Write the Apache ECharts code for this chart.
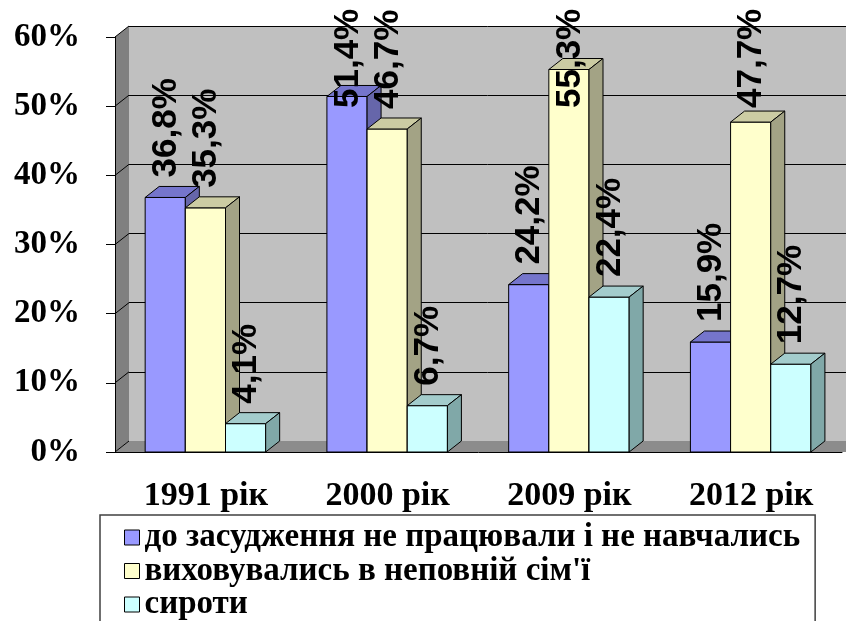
<!DOCTYPE html>
<html>
<head>
<meta charset="utf-8">
<script src="https://cdn.jsdelivr.net/npm/echarts@6/dist/echarts.min.js"></script>
<style>
html, body { margin: 0; background: #fff; }
#main { width: 846px; height: 621px; }
</style>
</head>
<body>
<div id="main"></div>
<script>
var years = ['1991 рік', '2000 рік', '2009 рік', '2012 рік'];
var seriesNames = ['до засудження не працювали і не навчались', "виховувались в неповній сім'ї", 'сироти'];
var notWorking = [36.8, 51.4, 24.2, 15.9];
var incomplete = [35.3, 46.7, 55.3, 47.7];
var orphans = [4.1, 6.7, 22.4, 12.7];
var yTicks = [0, 10, 20, 30, 40, 50, 60];

// front, top, side
var faceColors = [
  ['#9999FF', '#7575CC', '#6666AA'],
  ['#FFFFCC', '#CCCCA3', '#A3A385'],
  ['#CCFFFF', '#A3CCCC', '#80A8A8']
];

// layout of the fake 3d box
var L = 115, T = 37, B = 452, W = 846;
var DX = 14, DY = 11;

function bar3d(params, api) {
  var s = params.seriesIndex;
  var c = faceColors[s];
  var v = api.value(1);
  var base = api.coord([api.value(0), 0]);
  var top = api.coord([api.value(0), v]);
  var band = api.size([1, 0])[0];
  var w = band * 0.221;
  var x0 = base[0] - band / 2 + band * 0.166 + s * w;
  var x1 = x0 + w;
  var y0 = base[1], y1 = top[1];
  var labelY = Math.max(y1 - DY - 9, 108);
  return {
    type: 'group',
    children: [
      { type: 'rect', z2: s * 10, shape: { x: x0, y: y1, width: w, height: y0 - y1 },
        style: { fill: c[0], stroke: '#000', lineWidth: 1 } },
      { type: 'polygon', z2: s * 10 + 1, shape: { points: [[x0, y1], [x0 + DX, y1 - DY], [x1 + DX, y1 - DY], [x1, y1]] },
        style: { fill: c[1], stroke: '#000', lineWidth: 1 } },
      { type: 'polygon', z2: s * 10 + 1, shape: { points: [[x1, y1], [x1 + DX, y1 - DY], [x1 + DX, y0 - DY], [x1, y0]] },
        style: { fill: c[2], stroke: '#000', lineWidth: 1 } },
      { type: 'text', z2: 100, x: (x0 + x1) / 2 + 1, y: labelY, rotation: Math.PI / 2,
        style: { text: v.toFixed(1).replace('.', ',') + '%', font: 'bold 35px "Liberation Sans"',
                 fill: '#000', align: 'left', verticalAlign: 'middle' } }
    ]
  };
}

var walls = [
  { type: 'polygon', z: 1, shape: { points: [[L, T], [L + DX, T - DY], [L + DX, B - DY], [L, B]] },
    style: { fill: '#808080' } },
  { type: 'polygon', z: 1, shape: { points: [[L, B], [L + DX, B - DY], [W, B - DY], [W, B]] },
    style: { fill: '#8C8C8C' } }
];
for (var k = 0; k < yTicks.length; k++) {
  var yy = B - (B - T) * yTicks[k] / 60;
  walls.push({ type: 'line', z: 1, shape: { x1: L, y1: yy, x2: L + DX, y2: yy - DY },
    style: { stroke: '#000', lineWidth: 1 } });
}

var chart = echarts.init(document.getElementById('main'));
chart.setOption({
  animation: false,
  grid: [
    { left: L, right: 4, top: T, bottom: 621 - B },
    { left: L + DX, right: -20, top: T - DY, bottom: 621 - B + DY, show: true, backgroundColor: '#C0C0C0', borderWidth: 0 }
  ],
  xAxis: [
    { type: 'category', gridIndex: 0, data: years, z: 3,
      axisLine: { lineStyle: { color: '#000', width: 1 } },
      axisTick: { length: 8, lineStyle: { color: '#000' } },
      axisLabel: { margin: 27, color: '#000', fontFamily: 'Liberation Serif', fontWeight: 'bold', fontSize: 34 } },
    { type: 'category', gridIndex: 1, data: years, show: false }
  ],
  yAxis: [
    { type: 'value', gridIndex: 0, min: 0, max: 60, interval: 10, z: 3,
      axisLine: { show: true, lineStyle: { color: '#000', width: 1 } },
      axisTick: { show: true, length: 9, lineStyle: { color: '#000' } },
      splitLine: { show: false },
      axisLabel: { margin: 35, formatter: '{value}%', color: '#000', fontFamily: 'Liberation Serif', fontWeight: 'bold', fontSize: 33 } },
    { type: 'value', gridIndex: 1, min: 0, max: 60, interval: 10,
      axisLine: { show: false }, axisTick: { show: false }, axisLabel: { show: false },
      splitLine: { show: true, lineStyle: { color: '#000', width: 1 } } }
  ],
  legend: {
    orient: 'vertical', left: 100, top: 515, height: 200,
    itemWidth: 15, itemHeight: 15, itemGap: 0.5, icon: 'rect',
    padding: [6, 15, 40, 24],
    borderColor: '#404040', borderWidth: 1.5, backgroundColor: '#fff',
    itemStyle: { borderColor: '#000', borderWidth: 1 },
    textStyle: { fontFamily: 'Liberation Serif', fontWeight: 'bold', fontSize: 33, lineHeight: 33, color: '#000' },
    data: seriesNames
  },
  graphic: { elements: walls },
  series: [
    { type: 'custom', name: seriesNames[0], renderItem: bar3d, itemStyle: { color: faceColors[0][0] },
      encode: { x: 0, y: 1 }, data: notWorking.map(function (v, i) { return [i, v]; }) },
    { type: 'custom', name: seriesNames[1], renderItem: bar3d, itemStyle: { color: faceColors[1][0] },
      encode: { x: 0, y: 1 }, data: incomplete.map(function (v, i) { return [i, v]; }) },
    { type: 'custom', name: seriesNames[2], renderItem: bar3d, itemStyle: { color: faceColors[2][0] },
      encode: { x: 0, y: 1 }, data: orphans.map(function (v, i) { return [i, v]; }) }
  ]
});
</script>
</body>
</html>
